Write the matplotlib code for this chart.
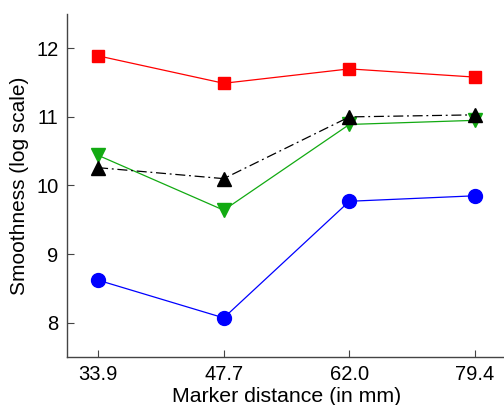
import matplotlib
matplotlib.use("Agg")
import matplotlib.pyplot as plt

plt.rcParams['font.family'] = ['Liberation Sans', 'DejaVu Sans']

categories = ["33.9", "47.7", "62.0", "79.4"]
red_sq = [11.89, 11.49, 11.70, 11.58]
black_tri = [10.26, 10.10, 11.00, 11.03]
green_tri = [10.44, 9.64, 10.89, 10.95]
blue_circ = [8.62, 8.07, 9.77, 9.85]
yticks = [8, 9, 10, 11, 12]

x = list(range(1, len(categories) + 1))

fig = plt.figure(figsize=(5.04, 4.05), dpi=100)
ax = fig.add_axes([66.7/504, 48/405, (506.4-66.7)/504, (357-14)/405])

ax.plot(x, red_sq, color='#ff0000', lw=0.9, marker='s', ms=8.5, mec='#ff0000', mfc='#ff0000', zorder=3)
ax.plot(x, green_tri, color='#12aa12', lw=0.9, marker='v', ms=10.5, mfc='#12aa12', mec='#12aa12', zorder=3)
ax.plot(x, black_tri, color='black', lw=0.9, ls='-.', dashes=(8, 3, 1.5, 3), marker='^', ms=10.5, zorder=4)
ax.plot(x, blue_circ, color='#0000ff', lw=0.9, marker='o', ms=10, mfc='#0000ff', mec='#0000ff', zorder=3)

ax.set_xlim(0.75, 4.25)
ax.set_ylim(7.5, 12.5)
ax.set_xticks(x)
ax.set_xticklabels(categories)
ax.set_yticks(yticks)
ax.set_yticklabels([str(t) for t in yticks])

for s in ['top', 'right']:
    ax.spines[s].set_visible(False)
for s in ['left', 'bottom']:
    ax.spines[s].set_color('#444444')
    ax.spines[s].set_linewidth(1.0)

ax.tick_params(direction='in', length=5, width=0.8, color='#444444', labelsize=14.5, pad=6)
ax.set_xlabel('Marker distance (in mm)', fontsize=15.3, labelpad=2)
ax.set_ylabel('Smoothness (log scale)', fontsize=15, labelpad=5)

fig.savefig('out.png', dpi=100)
